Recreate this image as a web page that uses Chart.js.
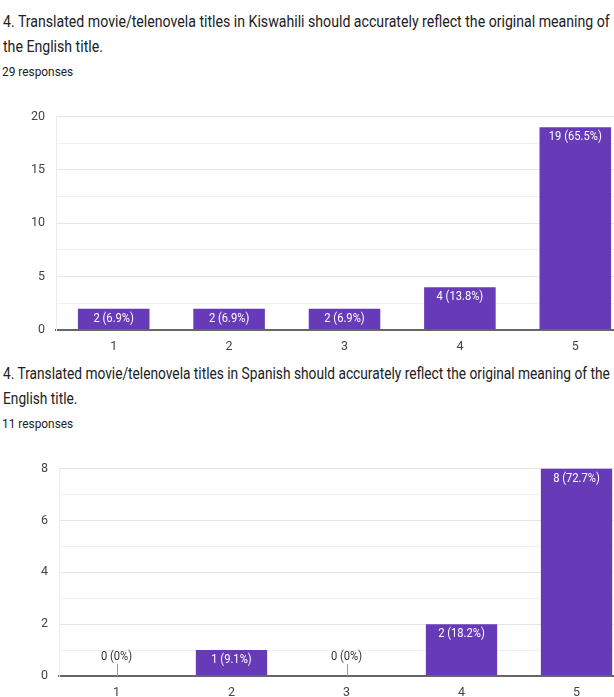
<!DOCTYPE html>
<html>
<head>
<meta charset="utf-8">
<script src="https://cdn.jsdelivr.net/npm/chart.js@4.4.0/dist/chart.umd.min.js"></script>
<style>
html, body { margin: 0; padding: 0; background: #fff; overflow: hidden; width: 614px; height: 697px; }
#page { position: absolute; left: 0; top: 0; width: 614px; height: 697px; font-family: Roboto, sans-serif; }
.q { position: absolute; left: 3px; font-size: 16px; line-height: 25px; color: #202124; white-space: nowrap; transform-origin: 0 0; }
.n { position: absolute; left: 2px; font-size: 12.5px; line-height: 15px; color: #202124; white-space: nowrap; transform: scaleX(0.95); transform-origin: 0 0; }
canvas { position: absolute; left: 0; }
</style>
</head>
<body>
<div id="page">
  <div class="q" style="top:9px; transform:scaleX(0.883)">4. Translated movie/telenovela titles in Kiswahili should accurately reflect the original meaning of<br>the English title.</div>
  <div class="n" style="top:64px">29 responses</div>
  <canvas id="chart1" width="640" height="258" style="top:98px"></canvas>

  <div class="q" style="top:361px; transform:scaleX(0.858)">4. Translated movie/telenovela titles in Spanish should accurately reflect the original meaning of the<br>English title.</div>
  <div class="n" style="top:416px">11 responses</div>
  <canvas id="chart2" width="640" height="252" style="top:450px"></canvas>
</div>

<script>
const answers = ["1", "2", "3", "4", "5"];

const kiswahiliCounts = [2, 2, 2, 4, 19];
const kiswahiliLabels = ["2 (6.9%)", "2 (6.9%)", "2 (6.9%)", "4 (13.8%)", "19 (65.5%)"];

const spanishCounts = [0, 1, 0, 2, 8];
const spanishLabels = ["0 (0%)", "1 (9.1%)", "0 (0%)", "2 (18.2%)", "8 (72.7%)"];

// count + percent text on each bar, zero bars get a little stem instead
const barLabels = {
  id: "barLabels",
  afterDatasetsDraw(chart, args, opts) {
    const ctx = chart.ctx;
    const meta = chart.getDatasetMeta(0);
    const base = chart.scales.y.getPixelForValue(0);
    ctx.save();
    ctx.font = "12px Roboto";
    ctx.textAlign = "center";
    ctx.textBaseline = "middle";
    meta.data.forEach((bar, i) => {
      const value = chart.data.datasets[0].data[i];
      let ty = bar.y + 10;
      if (value > 0) {
        ctx.fillStyle = "#ffffff";
      } else {
        ctx.strokeStyle = "#999";
        ctx.lineWidth = 1;
        ctx.beginPath();
        ctx.moveTo(Math.round(bar.x) + 0.5, base);
        ctx.lineTo(Math.round(bar.x) + 0.5, base - 12);
        ctx.stroke();
        ctx.fillStyle = "#333";
        ty = base - 19;
      }
      ctx.save();
      ctx.translate(bar.x, ty);
      ctx.scale(0.93, 1);
      ctx.fillText(opts.texts[i], 0, 0);
      ctx.restore();
    });
    ctx.restore();
  }
};

function makeChart(id, counts, texts, max, step, labelEvery, leftWidth, rightPad) {
  const ctx = document.getElementById(id).getContext("2d");
  return new Chart(ctx, {
    type: "bar",
    data: {
      labels: answers,
      datasets: [
        {
          data: counts,
          backgroundColor: "#673ab7",
          categoryPercentage: 1,
          barPercentage: 0.62,
        },
      ],
    },
    options: {
      responsive: false,
      animation: false,
      layout: { padding: { top: 12, right: rightPad, left: 0, bottom: 0 } },
      plugins: {
        legend: { display: false },
        tooltip: { enabled: false },
        barLabels: { texts: texts },
      },
      scales: {
        x: {
          grid: { display: false, drawTicks: false },
          border: { color: "#666", width: 2 },
          ticks: { color: "#444", font: { family: "Roboto", size: 12.5 }, padding: 9 },
          afterFit(scale) { scale.height = 26; },
        },
        y: {
          min: 0,
          max: max,
          grid: {
            drawTicks: false,
            color: (c) => {
              if (!c.tick) return "#ebebeb";
              if (c.tick.value === 0) return "#666";
              return c.tick.value % labelEvery === 0 ? "#e6e6e6" : "#f0f0f0";
            },
            lineWidth: (c) => (c.tick && c.tick.value === 0 ? 2 : 1),
          },
          border: { color: "#ebebeb", width: 1 },
          ticks: {
            stepSize: step,
            color: "#444",
            font: { family: "Roboto", size: 12.5 },
            padding: 11,
            callback: (v) => (v % labelEvery === 0 ? v : ""),
          },
          afterFit(scale) { scale.width = leftWidth; },
        },
      },
    },
    plugins: [barLabels],
  });
}

makeChart("chart1", kiswahiliCounts, kiswahiliLabels, 20, 2.5, 5, 56, 7);
makeChart("chart2", spanishCounts, spanishLabels, 8, 1, 2, 59, 6);
</script>
</body>
</html>
